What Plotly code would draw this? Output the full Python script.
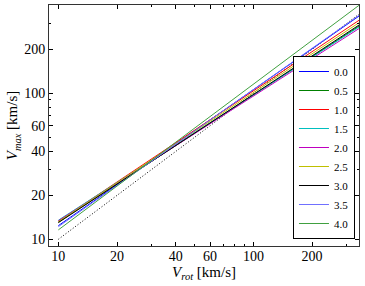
import plotly.graph_objects as go

# ---- data ----
vrot_ends = [10, 350]
labels = ["0.0", "0.5", "1.0", "1.5", "2.0", "2.5", "3.0", "3.5", "4.0"]
vmax_00 = [12.4, 340]
vmax_05 = [13.1, 290]
vmax_10 = [13.3, 318]
vmax_15 = [13.5, 286]
vmax_20 = [13.4, 279]
vmax_25 = [13.2, 306]
vmax_30 = [13.0, 295]
vmax_35 = [12.2, 344]
vmax_40 = [11.6, 403]
one_to_one = [10, 350]

x_ticks = [10, 20, 40, 60, 100, 200]
y_ticks = [10, 20, 40, 60, 100, 200]
minor_vals = [30, 50, 70, 80, 90, 300, 400]

series = [vmax_00, vmax_05, vmax_10, vmax_15, vmax_20, vmax_25, vmax_30, vmax_35, vmax_40]
colors = ["#0000ff", "#008000", "#ff0000", "#00bfbf", "#bf00bf", "#bfbf00",
          "#000000", "#7070ff", "#40a040"]

fig = go.Figure()
fig.add_trace(go.Scatter(x=vrot_ends, y=one_to_one, mode="lines",
                         line=dict(color="black", width=1, dash="1px,2px"),
                         showlegend=False, hoverinfo="skip"))
for lab, ys, c in zip(labels, series, colors):
    fig.add_trace(go.Scatter(x=vrot_ends, y=ys, mode="lines", name=lab,
                             line=dict(color=c, width=1)))

font = "Liberation Serif"
axis_common = dict(
    type="log", showgrid=False, zeroline=False, automargin=False,
    showline=True, linecolor="#333333", linewidth=1, mirror="allticks",
    ticks="inside", ticklen=4, tickwidth=1, tickcolor="black",
    tickfont=dict(family=font, size=14, color="black"),
    minor=dict(ticks="inside", ticklen=2, tickwidth=1, tickcolor="black",
               tickvals=minor_vals, showgrid=False),
)
fig.update_xaxes(**axis_common, range=[0.952, 2.5416],
                 tickvals=x_ticks, ticktext=[str(v) for v in x_ticks],
                 ticklabelstandoff=-3,
                 title=dict(text="<i>V</i><sub><i>rot</i></sub> [km/s]",
                            font=dict(family=font, size=15, color="black"),
                            standoff=2))
fig.update_yaxes(**axis_common, range=[0.954, 2.605],
                 tickvals=y_ticks, ticktext=[str(v) for v in y_ticks],
                 title=dict(text="<i>V</i><sub><i>max</i></sub> [km/s]",
                            font=dict(family=font, size=15, color="black"),
                            standoff=2))

fig.update_layout(
    width=365, height=286,
    margin=dict(l=49, r=6, t=5, b=40, autoexpand=False),
    paper_bgcolor="white", plot_bgcolor="white",
    legend=dict(x=0.987, y=0.029, xanchor="right", yanchor="bottom",
                bordercolor="black", borderwidth=1, bgcolor="white",
                font=dict(family=font, size=11, color="black"),
                tracegroupgap=0, itemwidth=30),
)
fig.write_html("out.html", config={"displayModeBar": False},
               post_script="document.body.style.margin='0';document.body.style.overflow='hidden';")
